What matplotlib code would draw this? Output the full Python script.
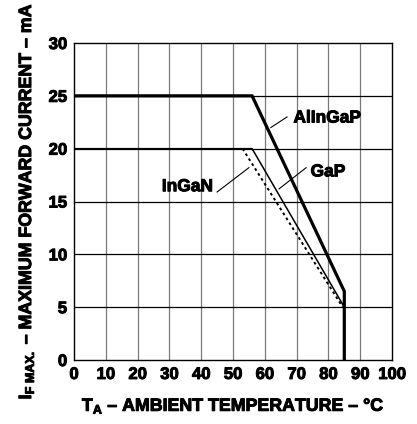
import matplotlib
matplotlib.use("Agg")
import matplotlib.pyplot as plt
import matplotlib.patheffects as pe

plt.rcParams['font.family'] = ['Liberation Sans', 'DejaVu Sans']
plt.rcParams['font.weight'] = 'bold'
plt.rcParams['mathtext.fontset'] = 'custom'
plt.rcParams['mathtext.rm'] = 'Liberation Sans:bold'
plt.rcParams['mathtext.it'] = 'Liberation Sans:bold'

# Derating curves: ambient temperature (°C) vs max forward current (mA)
alingap_t = [0, 56, 85, 85]
alingap_i = [25, 25, 6.5, 0]
gap_t = [0, 56, 85]
gap_i = [20, 20, 5]
ingan_t = [53, 84.5]
ingan_i = [20, 5]

x_ticks = [0, 10, 20, 30, 40, 50, 60, 70, 80, 90, 100]
y_ticks = [0, 5, 10, 15, 20, 25, 30]

# slight stroke to make the bold text heavier
heavy = [pe.withStroke(linewidth=0.7, foreground='black')]

fig = plt.figure(figsize=(4.17, 4.24), dpi=100)
ax = fig.add_axes([74 / 417, 1 - 360 / 424, 318 / 417, 317 / 424])

ax.set_xlim(0, 100)
ax.set_ylim(0, 30)
ax.set_xticks(x_ticks)
ax.set_yticks(y_ticks)
ax.tick_params(length=0, labelsize=12, pad=5)
for lab in ax.get_xticklabels() + ax.get_yticklabels():
    lab.set_fontweight('bold')
    lab.set_path_effects(heavy)

# grid: gray verticals, black horizontals
for t in x_ticks[1:-1]:
    ax.axvline(t, color='#7a7a7a', lw=0.9, zorder=1)
for v in y_ticks[1:-1]:
    ax.axhline(v, color='black', lw=0.9, zorder=1)
for s in ax.spines.values():
    s.set_linewidth(1.0)

ax.plot(alingap_t, alingap_i, color='black', lw=2.3, solid_joinstyle='miter', zorder=4)
ax.plot(gap_t, gap_i, color='black', lw=1.1, zorder=3)
ax.plot(ingan_t, ingan_i, color='black', lw=1.4, ls=(0, (1.4, 1.6)), zorder=3)

# curve labels with leader lines
lbl = dict(fontsize=12.5, fontweight='bold', va='center', path_effects=heavy)
ax.plot([61.9, 67.0], [22.0, 23.0], color='black', lw=0.8)
ax.text(69.0, 22.9, 'AlInGaP', ha='left', **lbl)
ax.plot([64.5, 73.0], [16.2, 18.2], color='black', lw=0.8)
ax.text(74.4, 17.8, 'GaP', ha='left', **lbl)
ax.plot([45.0, 55.0], [15.9, 18.2], color='black', lw=0.8)
ax.text(43.7, 16.4, 'InGaN', ha='right', **lbl)

ax.set_xlabel('T$_{\\mathrm{A}}$ – AMBIENT TEMPERATURE – °C',
              fontsize=12.8, fontweight='bold', labelpad=10, path_effects=heavy)
ax.set_ylabel('I$_{\\mathrm{F\\ MAX.}}$ – MAXIMUM FORWARD CURRENT – mA',
              fontsize=12.8, fontweight='bold', labelpad=9, path_effects=heavy)

fig.savefig('out.png', dpi=100)
